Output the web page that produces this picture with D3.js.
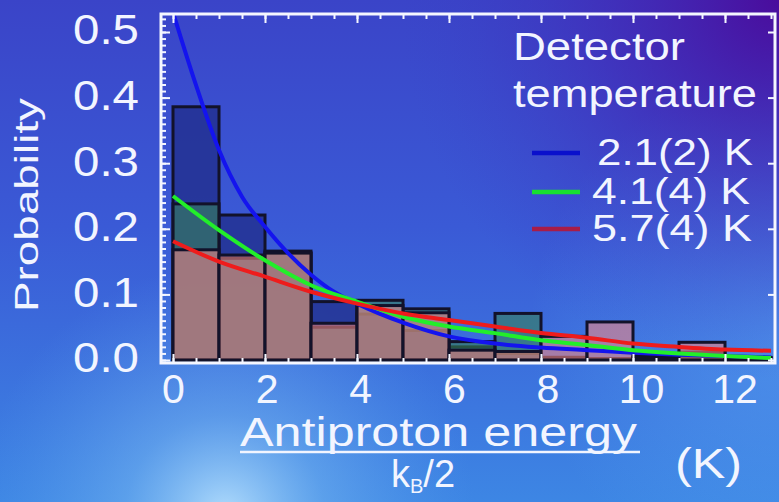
<!DOCTYPE html>
<html>
<head>
<meta charset="utf-8">
<script src="https://cdn.jsdelivr.net/npm/d3@7"></script>
<style>
  html, body { margin: 0; padding: 0; overflow: hidden; background: #3a5ad8; }
  svg { display: block; }
  text { font-family: "Liberation Sans", Arial, sans-serif; fill: #f2f5ff; }
</style>
</head>
<body>
<svg id="chart" width="779" height="502"></svg>
<script>
// Histogram bins (left edges, K) and measured probability per bin
const binStarts = [0, 1, 2, 3, 4, 5, 6, 7, 8, 9, 10, 11, 12];
const binWidth = 1;
const probCold = [0.386, 0.221, 0.163, 0.089, 0.070, 0.045, 0.020, 0.010, 0.004, 0.002, 0.008, 0.012, 0.004];
const probMid  = [0.238, 0.155, 0.166, 0.050, 0.091, 0.078, 0.028, 0.071, 0.004, 0.002, 0.008, 0.005, 0.003];
const probWarm = [0.168, 0.160, 0.163, 0.056, 0.083, 0.072, 0.015, 0.013, 0.036, 0.058, 0.004, 0.027, 0.003];

// Thermal fit curves, sampled along the energy axis
const fitEnergyCold = [0, 0.5, 1, 1.5, 2, 2.5, 3, 3.5, 4, 5, 6, 7, 8, 9, 10, 11, 12, 13];
const fitCold = [0.530, 0.419, 0.320, 0.249, 0.203, 0.163, 0.130, 0.104, 0.086, 0.057, 0.036, 0.025, 0.019, 0.015, 0.011, 0.008, 0.006, 0.004];
const fitEnergy = [0, 1, 2, 3, 4, 5, 6, 7, 8, 9, 10, 11, 12, 13];
const fitMid  = [0.250, 0.198, 0.152, 0.114, 0.089, 0.066, 0.051, 0.041, 0.030, 0.023, 0.015, 0.010, 0.006, 0.003];
const fitWarm = [0.181, 0.150, 0.127, 0.104, 0.086, 0.071, 0.061, 0.051, 0.041, 0.034, 0.025, 0.020, 0.016, 0.014];

// Axis ticks and legend entries
const yTicks = [0, 0.1, 0.2, 0.3, 0.4, 0.5];
const xTicks = [0, 2, 4, 6, 8, 10, 12];
const legendTitle = ["Detector", "temperature"];
const legendLabels = ["2.1(2) K", "4.1(4) K", "5.7(4) K"];

const svg = d3.select("#chart");
const W = 779, H = 502;

// ---------- background ----------
const defs = svg.append("defs");
const bg = defs.append("linearGradient").attr("id", "bgLin")
  .attr("x1", 0).attr("y1", 0).attr("x2", 0).attr("y2", 1);
bg.append("stop").attr("offset", "0%").attr("stop-color", "#3a44c8");
bg.append("stop").attr("offset", "45%").attr("stop-color", "#3a5ad6");
bg.append("stop").attr("offset", "100%").attr("stop-color", "#3d86e4");

const purple = defs.append("radialGradient").attr("id", "bgPurple")
  .attr("gradientUnits", "userSpaceOnUse").attr("cx", 779).attr("cy", 0).attr("r", 380);
purple.append("stop").attr("offset", "0%").attr("stop-color", "#4a0c9c").attr("stop-opacity", 1);
purple.append("stop").attr("offset", "45%").attr("stop-color", "#4420b0").attr("stop-opacity", 0.55);
purple.append("stop").attr("offset", "100%").attr("stop-color", "#3a40c8").attr("stop-opacity", 0);

const glow = defs.append("radialGradient").attr("id", "bgGlow")
  .attr("gradientUnits", "userSpaceOnUse").attr("cx", 225).attr("cy", 515).attr("r", 250);
glow.append("stop").attr("offset", "0%").attr("stop-color", "#bfe6ff").attr("stop-opacity", 0.9);
glow.append("stop").attr("offset", "40%").attr("stop-color", "#80c0f4").attr("stop-opacity", 0.45);
glow.append("stop").attr("offset", "100%").attr("stop-color", "#5aa0ee").attr("stop-opacity", 0);

const sideGlow = defs.append("radialGradient").attr("id", "bgSide")
  .attr("gradientUnits", "userSpaceOnUse").attr("cx", 790).attr("cy", 330).attr("r", 260);
sideGlow.append("stop").attr("offset", "0%").attr("stop-color", "#5aa8f4").attr("stop-opacity", 0.55);
sideGlow.append("stop").attr("offset", "100%").attr("stop-color", "#5aa8f4").attr("stop-opacity", 0);

svg.append("rect").attr("width", W).attr("height", H).attr("fill", "url(#bgLin)");
svg.append("rect").attr("width", W).attr("height", H).attr("fill", "url(#bgSide)");
svg.append("rect").attr("width", W).attr("height", H).attr("fill", "url(#bgPurple)");
svg.append("rect").attr("width", W).attr("height", H).attr("fill", "url(#bgGlow)");

// ---------- scales ----------
const frame = { left: 161, right: 775, top: 14, bottom: 363 };
const x = d3.scaleLinear().domain([0, 13]).range([173, 173 + 13 * 46]);
const y = d3.scaleLinear().domain([0, 0.5]).range([360, 32]);

defs.append("clipPath").attr("id", "plotClip").append("rect")
  .attr("x", frame.left).attr("y", frame.top)
  .attr("width", frame.right - frame.left).attr("height", frame.bottom - frame.top);

const plot = svg.append("g").attr("clip-path", "url(#plotClip)");

// ---------- histogram bars ----------
const barSeries = [
  { values: probCold, fill: "#22308f", opacity: 0.82 },
  { values: probMid,  fill: "#378058", opacity: 0.6 },
  { values: probWarm, fill: "#eb8585", opacity: 0.6 }
];
barSeries.forEach(s => {
  plot.append("g").selectAll("rect")
    .data(binStarts.map((b, i) => ({ b, v: s.values[i] })))
    .join("rect")
    .attr("x", d => x(d.b))
    .attr("width", d => x(d.b + binWidth) - x(d.b))
    .attr("y", d => y(d.v))
    .attr("height", d => y(0) - y(d.v))
    .attr("fill", s.fill)
    .attr("fill-opacity", s.opacity)
    .attr("stroke", "#12122a")
    .attr("stroke-width", 3);
});

// ---------- fit curves ----------
const line = d3.line().x(d => x(d[0])).y(d => y(d[1])).curve(d3.curveMonotoneX);
const curves = [
  { xs: fitEnergyCold, ys: fitCold, color: "#1414ee" },
  { xs: fitEnergy, ys: fitMid, color: "#22ee2a" },
  { xs: fitEnergy, ys: fitWarm, color: "#ee1c1c" }
];
curves.forEach(c => {
  plot.append("path")
    .datum(c.xs.map((e, i) => [e, c.ys[i]]))
    .attr("d", line)
    .attr("fill", "none")
    .attr("stroke", c.color)
    .attr("stroke-width", 4);
});

// ---------- frame and ticks ----------
svg.append("rect")
  .attr("x", frame.left).attr("y", frame.top)
  .attr("width", frame.right - frame.left).attr("height", frame.bottom - frame.top)
  .attr("fill", "none").attr("stroke", "#f4f6ff").attr("stroke-width", 3);

function tickMarks(axis, tx, ty) {
  const g = svg.append("g").attr("transform", `translate(${tx},${ty})`).call(axis);
  g.select(".domain").remove();
  g.selectAll("text").remove();
  g.selectAll("line").attr("stroke", "#f4f6ff").attr("stroke-width", 2);
}
const yMinor = d3.range(0, 0.5201, 0.01);
const xMinor = d3.range(0, 13.01, 0.5);
tickMarks(d3.axisLeft(y).tickValues(yMinor).tickSize(-5), frame.left, 0);
tickMarks(d3.axisLeft(y).tickValues(yTicks).tickSize(-9), frame.left, 0);
tickMarks(d3.axisRight(y).tickValues(yTicks).tickSize(-7), frame.right, 0);
tickMarks(d3.axisBottom(x).tickValues(xMinor).tickSize(-5), 0, frame.bottom);
tickMarks(d3.axisBottom(x).tickValues(xTicks).tickSize(-9), 0, frame.bottom);
tickMarks(d3.axisTop(x).tickValues(xMinor).tickSize(-5), 0, frame.top);
tickMarks(d3.axisTop(x).tickValues(xTicks).tickSize(-9), 0, frame.top);

// ---------- tick labels ----------
const yLab = svg.append("g").attr("transform", `translate(${frame.left},0)`)
  .call(d3.axisLeft(y).tickValues(yTicks).tickFormat(d3.format(".1f")).tickSize(0).tickPadding(22));
yLab.select(".domain").remove();
yLab.selectAll("text")
  .attr("font-size", 42).attr("dy", "0.33em").attr("y", -2)
  .attr("textLength", 66).attr("lengthAdjust", "spacingAndGlyphs")
  .style("fill", "#f2f5ff");

const xLab = svg.append("g").attr("transform", `translate(0,${frame.bottom})`)
  .call(d3.axisBottom(x).tickValues(xTicks).tickFormat(d3.format("d")).tickSize(0).tickPadding(11));
xLab.select(".domain").remove();
xLab.selectAll("text")
  .attr("font-size", 41)
  .attr("dx", d => d * 0.8)
  .style("fill", "#f2f5ff");

// ---------- axis titles ----------
svg.append("text")
  .attr("transform", "translate(38,205) rotate(-90)")
  .attr("text-anchor", "middle")
  .attr("font-size", 34)
  .attr("textLength", 214).attr("lengthAdjust", "spacingAndGlyphs")
  .text("Probability");

svg.append("text")
  .attr("x", 240).attr("y", 446)
  .attr("font-size", 40)
  .attr("textLength", 397).attr("lengthAdjust", "spacingAndGlyphs")
  .text("Antiproton energy");
svg.append("line")
  .attr("x1", 240).attr("x2", 640).attr("y1", 452).attr("y2", 452)
  .attr("stroke", "#f2f5ff").attr("stroke-width", 2.5);

const kb = svg.append("text").attr("x", 391).attr("y", 487).attr("font-size", 38);
kb.append("tspan").text("k");
kb.append("tspan").attr("font-size", 20).attr("dy", 6).text("B");
kb.append("tspan").attr("dy", -6).text("/2");

svg.append("text")
  .attr("x", 675).attr("y", 478)
  .attr("font-size", 42)
  .attr("textLength", 67).attr("lengthAdjust", "spacingAndGlyphs")
  .text("(K)");

// ---------- legend ----------
svg.append("text").attr("x", 513).attr("y", 60).attr("font-size", 39)
  .attr("textLength", 172).attr("lengthAdjust", "spacingAndGlyphs").text(legendTitle[0]);
svg.append("text").attr("x", 513).attr("y", 107).attr("font-size", 39)
  .attr("textLength", 244).attr("lengthAdjust", "spacingAndGlyphs").text(legendTitle[1]);

const legendColors = ["#0a10cc", "#18e030", "#a81c48"];
const legendRows = [
  { y: 153, tx: 597, len: 156 },
  { y: 192, tx: 592, len: 158 },
  { y: 229, tx: 592, len: 160 }
];
legendLabels.forEach((label, i) => {
  const r = legendRows[i];
  svg.append("line")
    .attr("x1", 532).attr("x2", 580).attr("y1", r.y).attr("y2", r.y)
    .attr("stroke", legendColors[i]).attr("stroke-width", 4.5);
  svg.append("text")
    .attr("x", r.tx).attr("y", r.y + 12)
    .attr("font-size", 36)
    .attr("textLength", r.len).attr("lengthAdjust", "spacingAndGlyphs")
    .text(label);
});
</script>
</body>
</html>
